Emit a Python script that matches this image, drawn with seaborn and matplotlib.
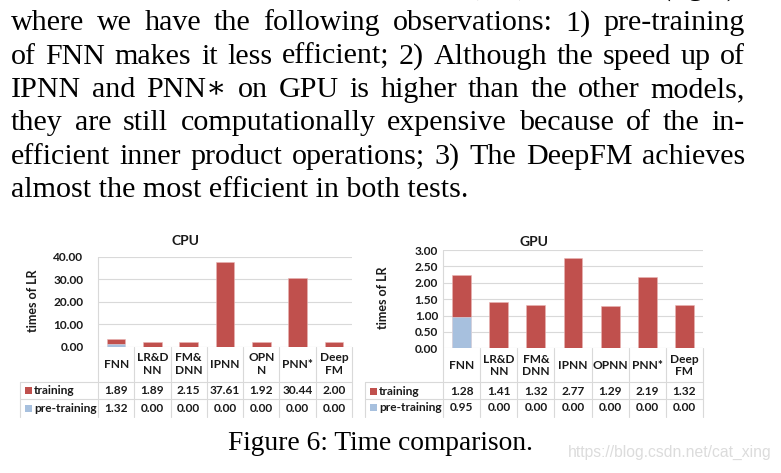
import matplotlib
matplotlib.use("Agg")
import matplotlib.pyplot as plt
import matplotlib.transforms as mtransforms
import seaborn as sns
import pandas as pd

# ---------------- data ----------------
models = ["FNN", "LR&DNN", "FM&DNN", "IPNN", "OPNN", "PNN*", "DeepFM"]
cpu_labels = ["FNN", "LR&D\nNN", "FM&\nDNN", "IPNN", "OPN\nN", "PNN*", "Deep\nFM"]
gpu_labels = ["FNN", "LR&D\nNN", "FM&\nDNN", "IPNN", "OPNN", "PNN*", "Deep\nFM"]
cpu_training = [1.89, 1.89, 2.15, 37.61, 1.92, 30.44, 2.00]
cpu_pretraining = [1.32, 0.00, 0.00, 0.00, 0.00, 0.00, 0.00]
gpu_training = [1.28, 1.41, 1.32, 2.77, 1.29, 2.19, 1.32]
gpu_pretraining = [0.95, 0.00, 0.00, 0.00, 0.00, 0.00, 0.00]
cpu_yticks = [0, 10, 20, 30, 40]
gpu_yticks = [0, 0.5, 1.0, 1.5, 2.0, 2.5, 3.0]

para_lines = [
    "Figure 6, including the tests on CPU (left) and GPU (right),",
    "where we have the following observations: 1) pre-training",
    "of FNN makes it less efficient; 2) Although the speed up of",
    "IPNN and PNN\u2217 on GPU is higher than the other models,",
    "they are still computationally expensive because of the in-",
    "efficient inner product operations; 3) The DeepFM achieves",
    "almost the most efficient in both tests.",
]
caption = "Figure 6: Time comparison."
watermark = "https://blog.csdn.net/cat_xing"

RED = "#C0504D"
BLUE = "#A7C0DE"
GRID = "#D9D9D9"
TXT = "#1a1a1a"

sns.set_style("white")
plt.rcParams["font.family"] = ["Lato", "DejaVu Sans"]

W, H = 781, 473
fig = plt.figure(figsize=(W / 100, H / 100), dpi=100)
fig.patch.set_facecolor("white")

# overlay in pixel coordinates (y downwards)
ov = fig.add_axes([0, 0, 1, 1])
ov.set_xlim(0, W)
ov.set_ylim(H, 0)
ov.axis("off")


def pax(x0, x1, ytop, ybot):
    return fig.add_axes([x0 / W, 1 - ybot / H, (x1 - x0) / W, (ybot - ytop) / H])


tick_font = dict(family=["Lato", "DejaVu Sans"], weight="bold", size=8.6)


def chart(ax, title, labels, training, pre, yticks, fmt, pad, tx, tyc, ylab_x, ylab_y,
          leg_x, plot_top, plot_bot, cat_y, row1_y, row2_y, row_top, row_mid, row_end):
    df = pd.DataFrame({"model": models,
                       "total": [a + b for a, b in zip(training, pre)],
                       "pre": pre})
    sns.barplot(data=df, x="model", y="total", color=RED, saturation=1, width=0.51,
                edgecolor="#E8B5B4", linewidth=0.4, ax=ax, zorder=3)
    sns.barplot(data=df, x="model", y="pre", color=BLUE, saturation=1, width=0.51,
                edgecolor="#DDE6F1", linewidth=0.4, ax=ax, zorder=4)
    ax.set_xlim(-0.5, len(models) - 0.5)
    ax.set_ylim(yticks[0], yticks[-1])
    ax.set_yticks(yticks)
    ax.set_yticklabels([fmt % v for v in yticks], **tick_font, color=TXT)
    ax.tick_params(axis="y", length=0, pad=pad)
    ax.set_xticks([])
    ax.set_xlabel("")
    ax.set_ylabel("")
    for s in ax.spines.values():
        s.set_visible(False)
    ax.grid(axis="y", color=GRID, linewidth=0.8, zorder=0)
    ax.set_axisbelow(True)
    ax.patch.set_alpha(0)

    # title and y label
    ov.text(tx, tyc, title, ha="center", va="center", fontsize=10,
            fontweight="bold", color=TXT)
    ov.text(ylab_x, ylab_y, "times of LR", rotation=90, ha="center", va="center",
            fontsize=9, fontweight="bold", color=TXT)

    tr = mtransforms.blended_transform_factory(ax.transData, ov.transData)
    n = len(models)
    # data table lines
    ov.plot([-0.5, -0.5], [plot_top, row_end], transform=tr, color=GRID, lw=0.8, clip_on=False)
    for i in range(n):
        ov.plot([i + 0.5, i + 0.5], [plot_bot, row_end], transform=tr, color=GRID,
                lw=0.8, clip_on=False)
    xr = ax.transData.transform((n - 0.5, 0))[0]
    for yy in (row_top, row_mid):
        ov.plot([leg_x, xr], [yy, yy], color=GRID, lw=0.8, clip_on=False)
    ov.plot([leg_x, leg_x], [row_top, row_end], color=GRID, lw=0.8, clip_on=False)

    for i, lab in enumerate(labels):
        ov.text(i, cat_y, lab, transform=tr, ha="center", va="center",
                linespacing=1.15, **tick_font, color=TXT)
        ov.text(i, row1_y, "%.2f" % training[i], transform=tr, ha="center",
                va="center", **tick_font, color=TXT)
        ov.text(i, row2_y, "%.2f" % pre[i], transform=tr, ha="center",
                va="center", **tick_font, color=TXT)
    # legend keys
    for yy, col, name in ((row1_y, RED, "training"), (row2_y, BLUE, "pre-training")):
        ov.add_patch(plt.Rectangle((leg_x + 5, yy - 3.5), 7, 7, color=col, lw=0))
        ov.text(leg_x + 14, yy, name, ha="left", va="center", **tick_font, color=TXT)


ax1 = pax(98, 352, 256.7, 346.7)
chart(ax1, "CPU", cpu_labels, cpu_training, cpu_pretraining, cpu_yticks, "%.2f", 10.5,
      185, 240.5, 33, 301, 20, 256.7, 346.7, 364, 390.5, 408, 381.7, 399, 416.7)
ax2 = pax(443.3, 702.7, 250, 348.3)
chart(ax2, "GPU", gpu_labels, gpu_training, gpu_pretraining, gpu_yticks, "%.2f", 3.8,
      534.5, 241.5, 383.3, 297.5, 365, 250, 348.3, 365.3, 391, 407.7, 382.3, 399, 416.7)

# ---------------- paragraph text (justified) ----------------
serif = dict(family=["Liberation Serif", "DejaVu Serif"], size=21.6, color="black")
fig.canvas.draw()
rend = fig.canvas.get_renderer()
X0, X1 = 11, 745
baselines = [-5.5, 30.5, 63.8, 97, 130.3, 163.6, 197]
for k, (line, yb) in enumerate(zip(para_lines, baselines)):
    if k == len(para_lines) - 1:
        ov.text(X0, yb, line, ha="left", va="baseline", **serif)
        continue
    words = line.split(" ")
    ts = [ov.text(0, yb, w, ha="left", va="baseline", **serif) for w in words]
    widths = [t.get_window_extent(rend).width for t in ts]
    gap = (X1 - X0 - sum(widths)) / (len(words) - 1)
    x = X0
    for t, w in zip(ts, widths):
        t.set_x(x)
        x += w + gap

ov.text(380, 450, caption, ha="center", va="baseline",
        family=["Liberation Serif", "DejaVu Serif"], size=19.8, color="black")
ov.text(568, 457, watermark, ha="left", va="baseline",
        family=["Liberation Sans", "DejaVu Sans"], size=11.3, color="#DCDCDC")

fig.savefig("out.png", dpi=100)
